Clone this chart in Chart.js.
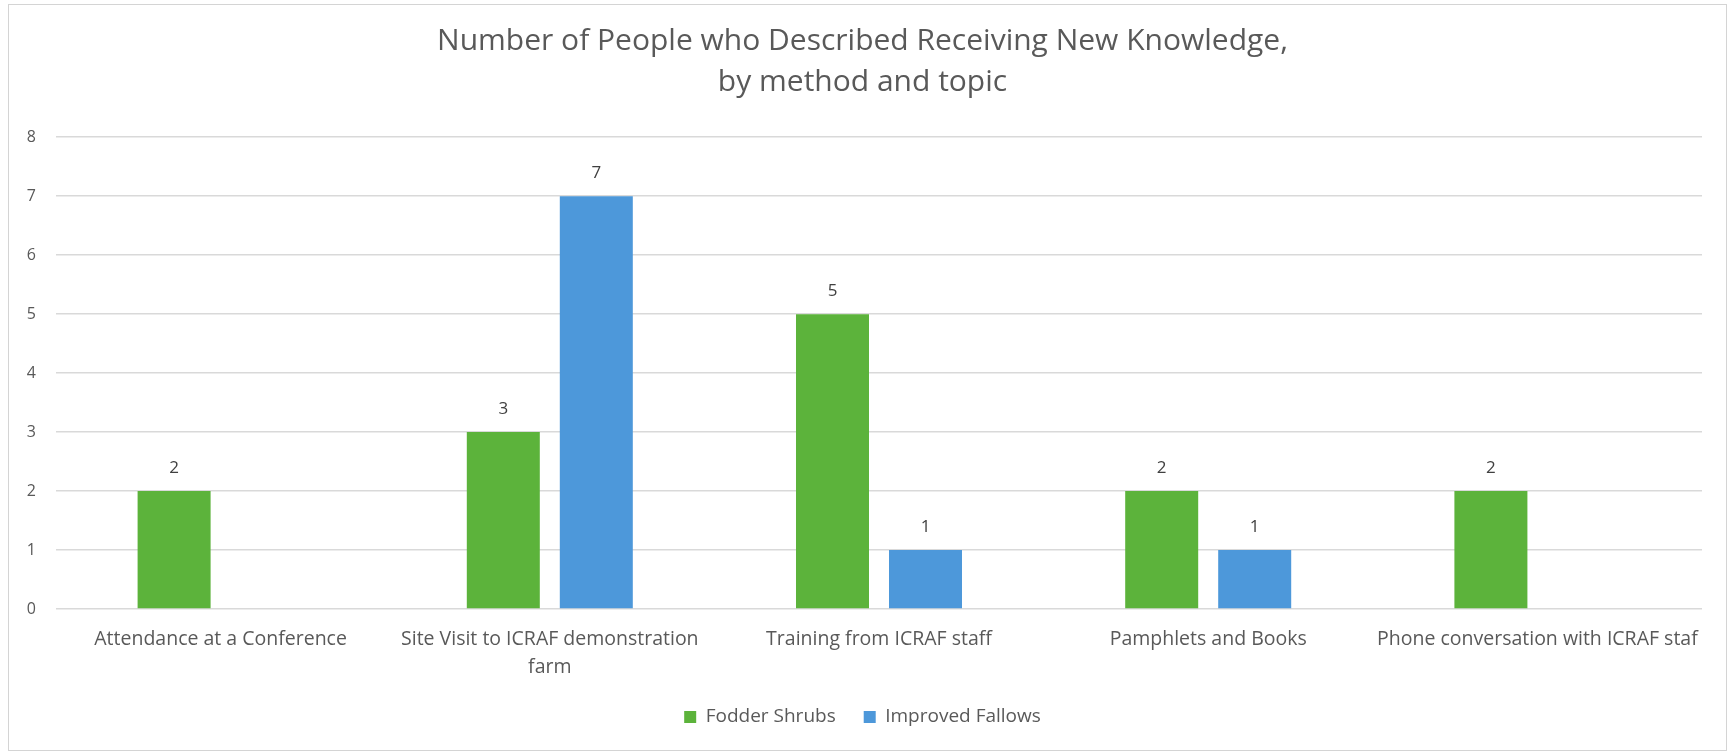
<!DOCTYPE html>
<html>
<head>
<meta charset="utf-8">
<title>Number of People who Described Receiving New Knowledge</title>
<script src="https://cdn.jsdelivr.net/npm/chart.js@4/dist/chart.umd.min.js"></script>
<style>
  html, body { margin: 0; padding: 0; background: #fff; overflow: hidden; }
  #wrap { position: relative; width: 1733px; height: 752px; }
  #frame { position: absolute; left: 8px; top: 4px; width: 1719px; height: 747px;
           border: 1.5px solid #d4d4d4; box-sizing: border-box; pointer-events: none; }
</style>
</head>
<body>
<div id="wrap">
  <canvas id="chart"></canvas>
  <div id="frame"></div>
</div>
<script>
// chart data
const methods = [
    'Attendance at a Conference',
    ['Site Visit to ICRAF demonstration', 'farm'],
    'Training from ICRAF staff',
    'Pamphlets and Books',
    'Phone conversation with ICRAF staf'
];
const fodderShrubs = [2, 3, 5, 2, 2];
const improvedFallows = [null, 7, 1, 1, null];
const yTicks = [0, 1, 2, 3, 4, 5, 6, 7, 8];

const textColor = '#595959';
const fontFamily = "'Open Sans', 'Liberation Sans', sans-serif";

// value labels above each bar
const valueLabels = {
    id: 'valueLabels',
    afterDatasetsDraw(chart) {
        const ctx = chart.ctx;
        ctx.save();
        ctx.font = `17px ${fontFamily}`;
        ctx.fillStyle = '#404040';
        ctx.textAlign = 'center';
        ctx.textBaseline = 'middle';
        chart.data.datasets.forEach((ds, i) => {
            chart.getDatasetMeta(i).data.forEach((bar, j) => {
                const v = ds.data[j];
                if (v === null || v === undefined) return;
                ctx.fillText(String(v), bar.x, bar.y - 23);
            });
        });
        ctx.restore();
    }
};

new Chart(document.getElementById('chart'), {
    type: 'bar',
    data: {
        labels: methods,
        datasets: [
            {
                label: 'Fodder Shrubs',
                data: fodderShrubs,
                backgroundColor: '#5cb33b',
                categoryPercentage: 0.565,
                barPercentage: 0.785
            },
            {
                label: 'Improved Fallows',
                data: improvedFallows,
                backgroundColor: '#4d98da',
                categoryPercentage: 0.565,
                barPercentage: 0.785
            }
        ]
    },
    options: {
        responsive: true,
        maintainAspectRatio: false,
        animation: false,
        layout: { padding: { left: 0, right: 8, top: 0, bottom: 15.5 } },
        plugins: {
            title: {
                display: true,
                text: ['Number of People who Described Receiving New Knowledge,', 'by method and topic'],
                color: textColor,
                font: { family: fontFamily, size: 30, weight: 'normal', lineHeight: 1.37 },
                padding: { top: 21, bottom: 34 }
            },
            legend: {
                position: 'bottom',
                labels: {
                    color: textColor,
                    font: { family: fontFamily, size: 19 },
                    boxWidth: 12,
                    boxHeight: 12,
                    padding: 28
                }
            },
            tooltip: { enabled: false }
        },
        scales: {
            x: {
                grid: { display: false },
                border: { display: false },
                ticks: {
                    color: textColor,
                    font: { family: fontFamily, size: 19.5, lineHeight: 1.42 },
                    maxRotation: 0,
                    autoSkip: false,
                    padding: 9
                },
                afterFit(scale) { scale.height = 70.5; }
            },
            y: {
                min: 0,
                max: 8,
                afterBuildTicks(scale) { scale.ticks = yTicks.map(v => ({ value: v })); },
                grid: { color: '#d9d9d9', lineWidth: 1.5, drawTicks: false },
                border: { display: false },
                ticks: {
                    color: textColor,
                    font: { family: fontFamily, size: 16 },
                    padding: 20
                },
                afterFit(scale) { scale.width = 56; }
            },
            // empty right margin so the title and legend stay centred on the frame
            spacer: {
                type: 'linear',
                position: 'right',
                grid: { display: false },
                border: { display: false },
                ticks: { display: false },
                afterFit(scale) { scale.width = 23; }
            }
        }
    },
    plugins: [valueLabels]
});
</script>
</body>
</html>
